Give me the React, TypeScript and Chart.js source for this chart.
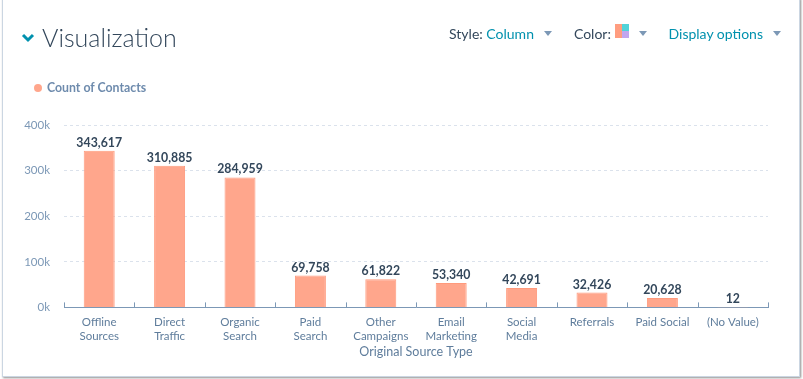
import React, { useEffect, useRef } from "react";
import { Chart, registerables } from "chart.js";

Chart.register(...registerables);

const categories: (string | string[])[] = [
  ["Offline", "Sources"],
  ["Direct", "Traffic"],
  ["Organic", "Search"],
  ["Paid", "Search"],
  ["Other", "Campaigns"],
  ["Email", "Marketing"],
  ["Social", "Media"],
  "Referrals",
  "Paid Social",
  "(No Value)",
];
const contactCounts = [343617, 310885, 284959, 69758, 61822, 53340, 42691, 32426, 20628, 12];
const seriesName = "Count of Contacts";
const axisTitle = "Original Source Type";
const yMax = 400000;
const yStep = 100000;

const FONT = "Lato, 'Open Sans', sans-serif";

const valueLabels = {
  id: "valueLabels",
  afterDatasetsDraw(chart: any) {
    const ctx = chart.ctx;
    const meta = chart.getDatasetMeta(0);
    ctx.save();
    ctx.font = `bold 12.3px ${FONT}`;
    ctx.fillStyle = "#33475b";
    ctx.textAlign = "center";
    ctx.textBaseline = "alphabetic";
    meta.data.forEach((bar: any, i: number) => {
      const v = chart.data.datasets[0].data[i];
      ctx.fillText(Number(v).toLocaleString("en-US"), bar.x, bar.y - 4);
    });
    ctx.restore();
  },
};

const boundaryTicks = {
  id: "boundaryTicks",
  afterDraw(chart: any) {
    const ctx = chart.ctx;
    const x = chart.scales.x;
    const bottom = chart.chartArea.bottom;
    ctx.save();
    ctx.strokeStyle = "#7c98b6";
    ctx.lineWidth = 1;
    for (let i = 0; i <= categories.length; i++) {
      const px = Math.round(x.getPixelForValue(i - 0.5)) + 0.5;
      ctx.beginPath();
      ctx.moveTo(px, bottom - 5);
      ctx.lineTo(px, bottom);
      ctx.stroke();
    }
    ctx.restore();
  },
};

function Caret() {
  return (
    <span
      style={{
        display: "inline-block",
        width: 0,
        height: 0,
        borderLeft: "4px solid transparent",
        borderRight: "4px solid transparent",
        borderTop: "5px solid #7c98b6",
        verticalAlign: "middle",
        marginLeft: 10,
        marginTop: -2,
      }}
    />
  );
}

export default function App() {
  const ref = useRef<HTMLCanvasElement>(null);

  useEffect(() => {
    if (!ref.current) return;
    const chart = new Chart(ref.current, {
      type: "bar",
      data: {
        labels: categories,
        datasets: [
          {
            label: seriesName,
            data: contactCounts,
            backgroundColor: "#ffa68c",
            borderColor: "#ff9a7c",
            borderWidth: 1,
            barPercentage: 0.44,
            categoryPercentage: 1,
          },
        ],
      },
      options: {
        responsive: false,
        animation: false,
        layout: { padding: { left: 20, right: 35, top: 125, bottom: 20 } },
        plugins: {
          legend: { display: false },
          tooltip: { enabled: false },
        },
        scales: {
          x: {
            grid: { display: false, drawTicks: false },
            border: { display: true, color: "#7c98b6", width: 1 },
            ticks: {
              color: "#5f7d9c",
              font: { family: FONT, size: 11.5 },
              padding: 8,
              maxRotation: 0,
              autoSkip: false,
            },
            title: {
              display: true,
              text: axisTitle,
              color: "#5f7d9c",
              font: { family: FONT, size: 12.5 },
              padding: { top: -7, bottom: 0 },
            },
          },
          y: {
            min: 0,
            max: yMax,
            afterFit(scale: any) {
              scale.width = 44;
            },
            grid: {
              color: "#dbe2ec",
              drawTicks: false,
            },
            border: { display: false, dash: [3, 3] },
            ticks: {
              stepSize: yStep,
              color: "#7c98b6",
              font: { family: FONT, size: 11.5 },
              padding: 14,
              callback: (v: any) => `${Number(v) / 1000}k`,
            },
          },
        },
      },
      plugins: [valueLabels, boundaryTicks],
    });
    return () => chart.destroy();
  }, []);

  return (
    <div
      style={{
        position: "fixed",
        left: 0,
        top: 0,
        width: 803,
        height: 379,
        background: "#fff",
        fontFamily: FONT,
        overflow: "hidden",
      }}
    >
      <div
        style={{
          position: "absolute",
          left: 2,
          top: -2,
          width: 796,
          height: 377,
          border: "1px solid #cbd6e2",
          boxShadow: "1px 1px 2px rgba(0,0,0,0.45)",
        }}
      />
      <canvas ref={ref} width={803} height={379} style={{ position: "absolute", left: 0, top: 0 }} />
      <div style={{ position: "absolute", left: 21, top: 22, display: "flex", alignItems: "center" }}>
        <svg width="14" height="10" viewBox="0 0 14 10" style={{ marginRight: 7, marginTop: 2 }}>
          <path d="M2 2 L7 7 L12 2" stroke="#0091ae" strokeWidth="3" fill="none" />
        </svg>
        <span style={{ fontSize: 25, color: "#33475b", fontWeight: 300, lineHeight: "30px" }}>Visualization</span>
      </div>
      <div style={{ position: "absolute", left: 34, top: 80, display: "flex", alignItems: "center" }}>
        <span
          style={{ width: 8, height: 8, borderRadius: 4, background: "#ffa68c", display: "inline-block", marginRight: 5 }}
        />
        <span style={{ fontSize: 12.3, fontWeight: 700, color: "#6e8bad" }}>{seriesName}</span>
      </div>
      <div
        style={{
          position: "absolute",
          right: 22,
          top: 24,
          display: "flex",
          alignItems: "center",
          fontSize: 14,
          lineHeight: "20px",
        }}
      >
        <span style={{ color: "#33475b" }}>Style:&nbsp;</span>
        <span style={{ color: "#0091ae" }}>Column</span>
        <Caret />
        <span style={{ color: "#33475b", marginLeft: 22 }}>Color:&nbsp;</span>
        <span style={{ display: "inline-grid", gridTemplateColumns: "7px 7px", gridTemplateRows: "7px 7px", width: 14, height: 14, marginTop: -6 }}>
          <span style={{ gridRow: "1 / 3", background: "#ff9d80" }} />
          <span style={{ background: "#51d3d9" }} />
          <span style={{ background: "#c2a6ef" }} />
        </span>
        <Caret />
        <span style={{ color: "#0091ae", marginLeft: 22 }}>Display options</span>
        <Caret />
      </div>
    </div>
  );
}
